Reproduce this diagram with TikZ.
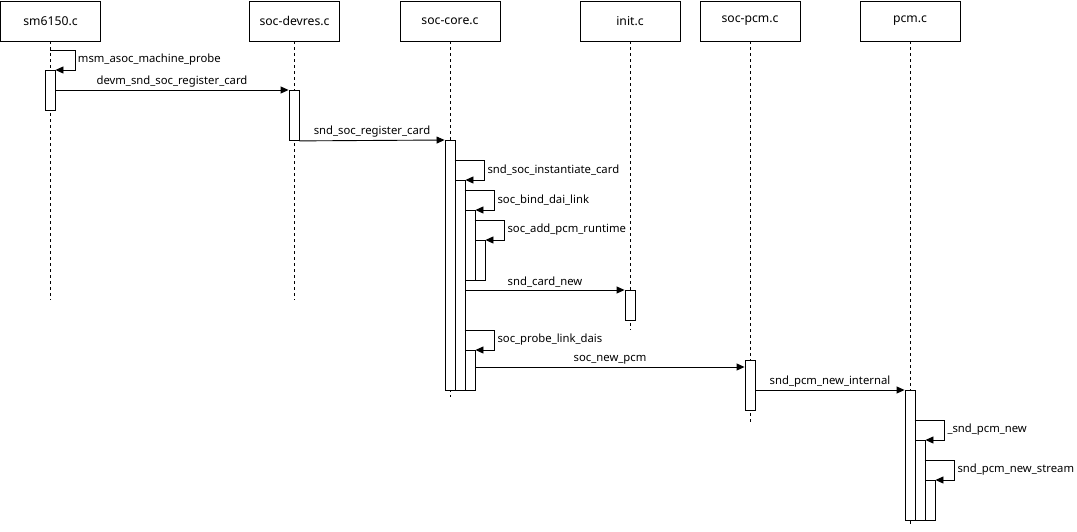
\documentclass[tikz,border=0pt]{standalone}
\usepackage{fontspec}
\setmainfont{Noto Sans}
\usepackage{tikz}
\usetikzlibrary{calc}
\usetikzlibrary{positioning}
\usetikzlibrary{arrows.meta}
\tikzset{
  head_node/.style = {rectangle, draw=black, anchor=north, inner sep=0pt,
    minimum width=100pt, minimum height=40pt, font=\fontsize{12.2}{14}\selectfont},
  act_node/.style = {rectangle, draw=black, fill=white, anchor=north,
    inner sep=0pt, minimum width=10pt},
  life_line/.style = {dash pattern=on 3pt off 3pt},
  msg_arrow/.style = {-{Triangle[length=8pt,width=7pt]}},
  msg_label/.style = {font=\fontsize{11.3}{13}\selectfont, inner sep=2.5pt}
}
\begin{document}
\begin{tikzpicture}[x=1pt, y=-1pt, line width=0.9pt]
  \useasboundingbox (0,0) rectangle (1077,531);
  % lifeline heads
  \node[head_node] (sm) at (50.5,0.5) {sm6150.c};
  \node[head_node, minimum width=90pt] (devres) at (294.5,0.5) {soc-devres.c};
  \node[head_node] (core) at (450,0.5) {soc-core.c};
  \node[head_node] (init) at (630,0.5) {init.c};
  \node[head_node] (socpcm) at (750,0.5) {soc-pcm.c};
  \node[head_node] (pcm) at (910,0.5) {pcm.c};
  % lifelines
  \coordinate (sm_end) at (sm.south |- 0,300);
  \coordinate (devres_end) at (devres.south |- 0,300);
  \coordinate (core_end) at (core.south |- 0,397);
  \coordinate (init_end) at (init.south |- 0,330);
  \coordinate (socpcm_end) at (socpcm.south |- 0,422);
  \coordinate (pcm_end) at (pcm.south |- 0,527);
  \foreach \n in {sm, devres, core, init, socpcm, pcm}
    \draw[life_line] (\n.south) -- (\n_end);
  % activations
  \node[act_node, minimum height=40pt] (sm_a) at (50,70) {};
  \node[act_node, minimum height=50pt] (devres_a) at (294,90) {};
  \node[act_node, minimum height=250pt] (core_a) at (450,140) {};
  \node[act_node, minimum height=210pt] (core_b) at (460,180) {};
  \node[act_node, minimum height=70pt] (core_c) at (470,210) {};
  \node[act_node, minimum height=40pt] (core_d) at (480,240) {};
  \node[act_node, minimum height=40pt] (core_e) at (470,350) {};
  \node[act_node, minimum height=30pt] (init_a) at (630,290) {};
  \node[act_node, minimum height=50pt] (socpcm_a) at (750,360) {};
  \node[act_node, minimum height=130pt] (pcm_a) at (910,390) {};
  \node[act_node, minimum height=80pt] (pcm_b) at (920,440) {};
  \node[act_node, minimum height=40pt] (pcm_c) at (930,480) {};
  % messages
  \draw[msg_arrow] ([yshift=20pt]sm_a.north) -- ++(25,0) -- ++(0,20)
    node[midway, right, msg_label] {msm\_asoc\_machine\_probe} -- (sm_a.north east);
  \draw[msg_arrow] (sm_a.east |- devres_a.north) -- (devres_a.north west)
    node[midway, above, msg_label] {devm\_snd\_soc\_register\_card};
  \draw[msg_arrow] (devres_a.south east) -- (core_a.north west)
    node[midway, above, msg_label] {snd\_soc\_register\_card};
  \draw[msg_arrow] ([yshift=20pt]core_b.north west) -- ++(30,0) -- ++(0,20)
    node[midway, right, msg_label] {snd\_soc\_instantiate\_card} -- (core_b.north east);
  \draw[msg_arrow] ([yshift=20pt]core_c.north west) -- ++(30,0) -- ++(0,20)
    node[midway, right, msg_label] {soc\_bind\_dai\_link} -- (core_c.north east);
  \draw[msg_arrow] ([yshift=20pt]core_d.north west) -- ++(30,0) -- ++(0,20)
    node[midway, right, msg_label] {soc\_add\_pcm\_runtime} -- (core_d.north east);
  \draw[msg_arrow] (core_b.east |- init_a.north) -- (init_a.north west)
    node[midway, above, msg_label] {snd\_card\_new};
  \draw[msg_arrow] ([yshift=20pt]core_e.north west) -- ++(30,0) -- ++(0,20)
    node[midway, right, msg_label] {soc\_probe\_link\_dais} -- (core_e.north east);
  \coordinate (socpcm_in) at ([yshift=-7pt]socpcm_a.north west);
  \draw[msg_arrow] (core_e.east |- socpcm_in) -- (socpcm_in)
    node[midway, above, msg_label] {soc\_new\_pcm};
  \draw[msg_arrow] (socpcm_a.east |- pcm_a.north) -- (pcm_a.north west)
    node[midway, above, msg_label] {snd\_pcm\_new\_internal};
  \draw[msg_arrow] ([yshift=20pt]pcm_b.north west) -- ++(30,0) -- ++(0,20)
    node[midway, right, msg_label] {\_snd\_pcm\_new} -- (pcm_b.north east);
  \draw[msg_arrow] ([yshift=20pt]pcm_c.north west) -- ++(30,0) -- ++(0,20)
    node[midway, right, msg_label] {snd\_pcm\_new\_stream} -- (pcm_c.north east);
\end{tikzpicture}
\end{document}
